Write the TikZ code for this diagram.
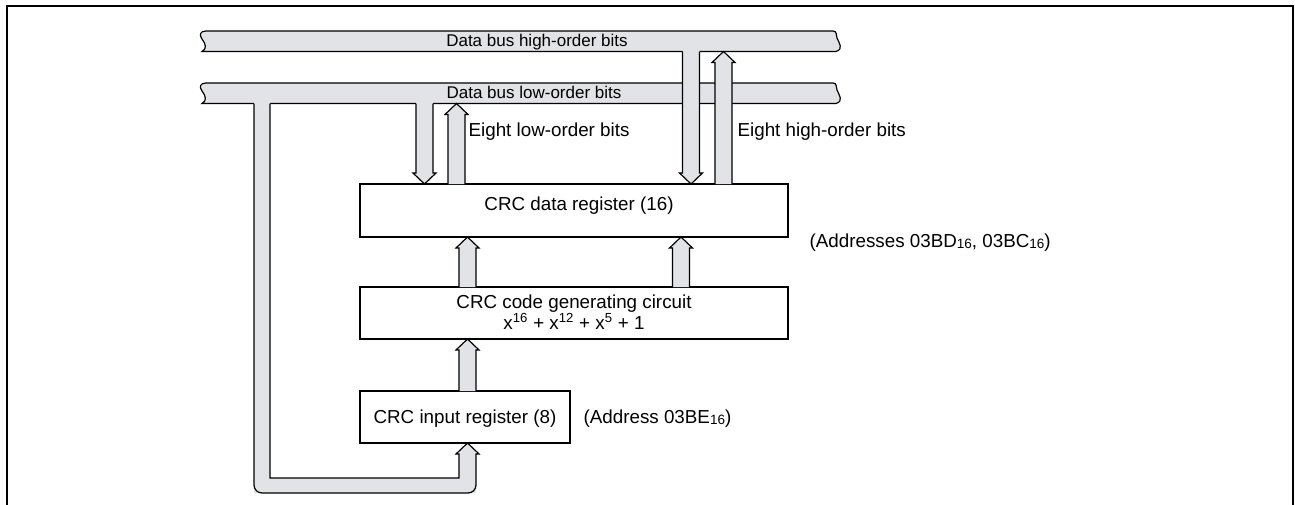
\documentclass[tikz,border=0pt]{standalone}
\usepackage{fontspec}
\setmainfont{Liberation Sans}
\usetikzlibrary{calc}
\definecolor{busgray}{RGB}{226,227,230}
\newcommand\hexs[1]{\raisebox{-0.15ex}{\fontsize{13.5}{13.5}\selectfont #1}}
\newcommand\fatarrow[3]{%
  \fill[busgray] let \p1=#1, \p3=#3, \n1={ifthenelse(\y3>\y1,1,-1)} in
    (\x1-8.5pt,\y1) -- (\x1-8.5pt,\y3-\n1*11pt) -- (\x1-11.5pt,\y3-\n1*11pt) -- (\x1,\y3)
    -- (\x1+11.5pt,\y3-\n1*11pt) -- (\x1+8.5pt,\y3-\n1*11pt) -- (\x1+8.5pt,\y1) -- cycle;
  \draw[line join=miter] let \p2=#2, \p3=#3, \n1={ifthenelse(\y3>\y2,1,-1)} in
    (\x2-8.5pt,\y2) -- (\x2-8.5pt,\y3-\n1*11pt) -- (\x2-11.5pt,\y3-\n1*11pt) -- (\x2,\y3)
    -- (\x2+11.5pt,\y3-\n1*11pt) -- (\x2+8.5pt,\y3-\n1*11pt) -- (\x2+8.5pt,\y2);
}
\newcommand\buspath[1]{%
  \path[busshape] (206,#1) -- (833,#1)
    .. controls (837,#1) and (836,{#1+4}) .. (837,{#1+7})
    .. controls (839,{#1+12}) and (844,{#1+18}) .. (836,{#1+20.5})
    -- (202,{#1+20.5})
    .. controls (207,{#1+18}) and (206,{#1+13}) .. (202,{#1+8})
    .. controls (199,{#1+4}) and (200,#1) .. (206,#1) -- cycle;
}
\begin{document}
\begin{tikzpicture}[x=1pt,y=-1pt,line width=1.2pt,
  box/.style={draw,line width=1.2pt,inner sep=0pt,outer sep=0pt,anchor=north west},
  lbl/.style={font=\fontsize{18.8}{21}\selectfont,inner sep=0pt},
  buslbl/.style={font=\fontsize{17}{19}\selectfont,inner sep=0pt},
  busshape/.style={fill=busgray,draw=black,line width=1.2pt}]
\useasboundingbox (0,0) rectangle (1295,504);
% frame
\draw[line width=2pt] (7,530) -- (7,6) -- (1293,6) -- (1293,530);
% boxes
\node[box,minimum width=428pt,minimum height=53pt] (data) at (360,184) {};
\node[box,minimum width=428pt,minimum height=52pt] (gen) at (360,287) {};
\node[box,minimum width=210pt,minimum height=52pt] (inp) at (360,391) {};
% bus reference coordinates
\coordinate (hb) at (0,41);
\coordinate (hbb) at (0,51.5);
\coordinate (lb) at (0,93);
\coordinate (lbb) at (0,103.5);
\coordinate (xa) at (424.5,0);
\coordinate (xb) at (456.5,0);
\coordinate (xc) at (691,0);
\coordinate (xd) at (723.5,0);
\coordinate (xm) at (467.5,0);
\coordinate (xn) at (681,0);
% buses
\buspath{31}
\buspath{83}
% feedback bus
\fill[busgray] (254,93) -- (254,493) -- (476,493) -- (476,454) -- (479,454) -- (467.5,443)
  -- (456,454) -- (459,454) -- (459,478) -- (270,478) -- (270,93) -- cycle;
\draw[line join=miter] (254,103.5) [rounded corners=8pt] -- (254,493) -- (476,493) [sharp corners] -- (476,454)
  -- (479,454) -- (inp.south -| xm) -- (456,454) -- (459,454) -- (459,478) -- (270,478) -- (270,103.5);
% arrows
\fatarrow{(lb -| xa)}{(lbb -| xa)}{(data.north -| xa)}
\fatarrow{(data.north -| xb)}{(data.north -| xb)}{(lbb -| xb)}
\fatarrow{(hb -| xc)}{(hbb -| xc)}{(data.north -| xc)}
\fatarrow{(data.north -| xd)}{(data.north -| xd)}{(hbb -| xd)}
\fatarrow{(gen.north -| xm)}{(gen.north -| xm)}{(data.south -| xm)}
\fatarrow{(gen.north -| xn)}{(gen.north -| xn)}{(data.south -| xn)}
\fatarrow{(inp.north -| xm)}{(inp.north -| xm)}{(gen.south -| xm)}
% labels
\node[buslbl,anchor=base] (lh) at (537,46) {Data bus high-order bits};
\node[buslbl,anchor=base] (ll) at (534,98) {Data bus low-order bits};
\node[lbl,anchor=base west] (el) at (468,136.5) {Eight low-order bits};
\node[lbl,anchor=base west] (eh) at (737,136.5) {Eight high-order bits};
\node[lbl,anchor=base] (tdata) at (579,210.5) {CRC data register (16)};
\node[lbl,anchor=base] (tgen1) at (574,308) {CRC code generating circuit};
\node[lbl,anchor=base] (tgen2) at (574,329) {x\textsuperscript{16} + x\textsuperscript{12} + x\textsuperscript{5} + 1};
\node[lbl,anchor=base] (tinp) at (465,423.5) {CRC input register (8)};
\node[lbl,anchor=base west] (adr1) at (809,247.5) {(Addresses 03BD\hexs{16}, 03BC\hexs{16})};
\node[lbl,anchor=base west] (adr2) at (583,423.5) {(Address 03BE\hexs{16})};
\end{tikzpicture}
\end{document}
